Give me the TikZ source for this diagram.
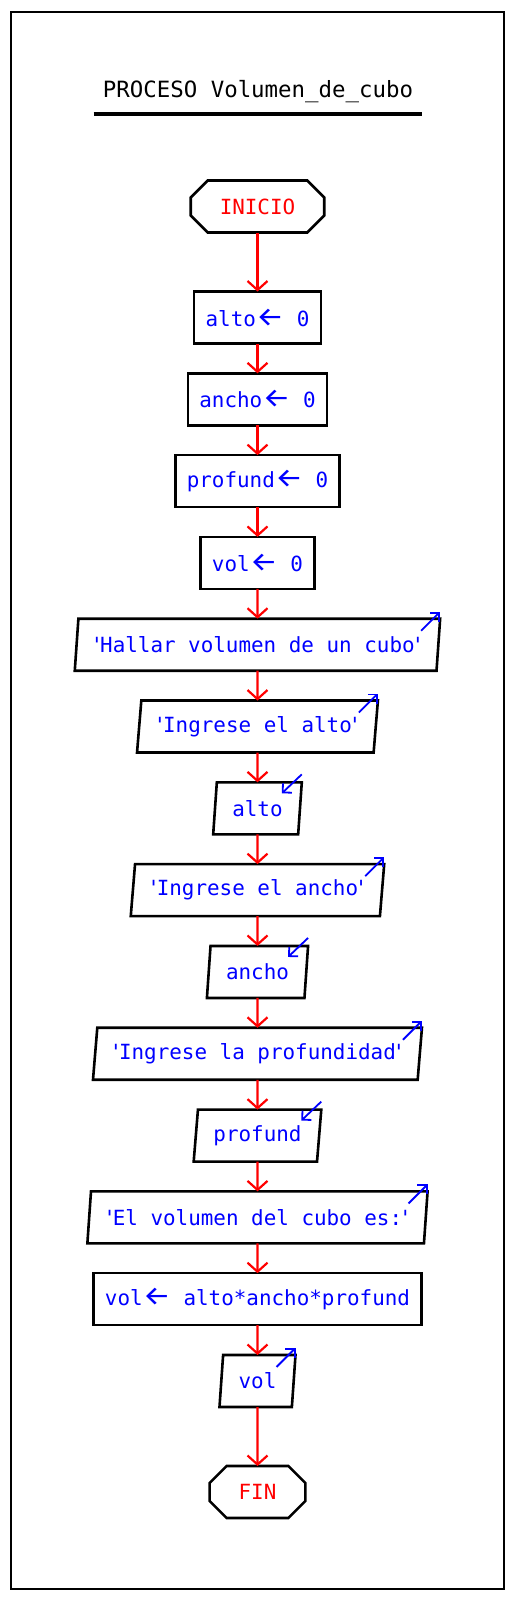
\documentclass[tikz,border=0pt]{standalone}
\usepackage{fontspec}
\setmonofont{DejaVu Sans Mono}
\newfontfamily\flechafont{Fira Sans}
\usepackage{graphicx}
\usepackage{tikz}
\usetikzlibrary{positioning, shapes.geometric, arrows.meta}

\newcommand{\asig}{\scalebox{1.5}[1.3]{\flechafont ←}}
\newcommand{\comilla}{\makebox[0.3em]{'}}

\begin{document}
\begin{tikzpicture}[
    x=1pt, y=-1pt,
    node distance=29.8pt,
    % Base styles
    basebox/.style={minimum height=52pt, outer sep=0pt, align=center, text=blue,
        font=\ttfamily\fontsize{20.9}{24}\selectfont, line width=2.6pt},
    % Rectangle for assignments
    asigbox/.style={basebox, rectangle, draw, inner xsep=11.5pt},
    % Parallelogram for input/output
    iobox/.style={basebox, draw, trapezium, trapezium left angle=81, trapezium right angle=99,
        trapezium stretches=true, inner xsep=15.5pt},
    % Start and end: text only, octagon drawn round it
    finbox/.style={basebox, rectangle, text=red, inner xsep=29pt},
    borde/.style={line width=2.6pt, line join=miter},
    % Title
    titulo/.style={font=\ttfamily\fontsize{22.4}{26}\selectfont, inner xsep=9pt, anchor=base},
    % Arrow styles
    flecha/.style={-{Straight Barb[length=9pt, width=20pt]}, red, line width=2.2pt},
    marca/.style={-{Straight Barb[length=6.5pt, width=13pt]}, blue, line width=1.8pt},
]
\useasboundingbox (0,0) rectangle (515,1600);

% Frame
\draw[line width=2.6pt] (11,12) rectangle (504,1589);

% Title
\node[titulo] (titulo) at (258,98) {PROCESO Volumen\_de\_cubo};
\draw[line width=4pt] ([shift={(0,16)}]titulo.base west) -- ([shift={(0,16)}]titulo.base east);

% Column of steps
\node[finbox] (inicio) at (257.5,206.5) {INICIO};
\node[asigbox, below=59pt of inicio] (alto) {alto\asig{} 0};
\node[asigbox, below=of alto] (ancho) {ancho\asig{} 0};
\node[asigbox, below=of ancho] (profund) {profund\asig{} 0};
\node[asigbox, below=of profund] (vol) {vol\asig{} 0};
\node[iobox, below=of vol] (hallar) {\comilla Hallar volumen de un cubo\comilla};
\node[iobox, below=of hallar] (msgalto) {\comilla Ingrese el alto\comilla};
\node[iobox, below=of msgalto] (leealto) {alto};
\node[iobox, below=of leealto] (msgancho) {\comilla Ingrese el ancho\comilla};
\node[iobox, below=of msgancho] (leeancho) {ancho};
\node[iobox, below=of leeancho] (msgprof) {\comilla Ingrese la profundidad\comilla};
\node[iobox, below=of msgprof] (leeprof) {profund};
\node[iobox, below=of leeprof] (msgvol) {\comilla El volumen del cubo es:\comilla};
\node[asigbox, below=of msgvol] (calcvol) {vol\asig{} alto*ancho*profund};
\node[iobox, below=of calcvol] (escvol) {vol};
\node[finbox, below=59pt of escvol] (fin) {FIN};

% Octagons for INICIO and FIN
\draw[borde] ([xshift=17pt]inicio.north west) -- ([xshift=-17pt]inicio.north east) -- ([yshift=-17pt]inicio.north east)
    -- ([yshift=17pt]inicio.south east) -- ([xshift=-17pt]inicio.south east) -- ([xshift=17pt]inicio.south west)
    -- ([yshift=17pt]inicio.south west) -- ([yshift=-17pt]inicio.north west) -- cycle;
\draw[borde] ([xshift=17pt]fin.north west) -- ([xshift=-17pt]fin.north east) -- ([yshift=-17pt]fin.north east)
    -- ([yshift=17pt]fin.south east) -- ([xshift=-17pt]fin.south east) -- ([xshift=17pt]fin.south west)
    -- ([yshift=17pt]fin.south west) -- ([yshift=-17pt]fin.north west) -- cycle;

% Arrows: main flow
\draw[flecha] (inicio) -- (alto);
\draw[flecha] (alto) -- (ancho);
\draw[flecha] (ancho) -- (profund);
\draw[flecha] (profund) -- (vol);
\draw[flecha] (vol) -- (hallar);
\draw[flecha] (hallar) -- (msgalto);
\draw[flecha] (msgalto) -- (leealto);
\draw[flecha] (leealto) -- (msgancho);
\draw[flecha] (msgancho) -- (leeancho);
\draw[flecha] (leeancho) -- (msgprof);
\draw[flecha] (msgprof) -- (leeprof);
\draw[flecha] (leeprof) -- (msgvol);
\draw[flecha] (msgvol) -- (calcvol);
\draw[flecha] (calcvol) -- (escvol);
\draw[flecha] (escvol) -- (fin);

% Output marks (out of the box)
\draw[marca] ([shift={(-19,12)}]hallar.top right corner) -- ([shift={(0,-7)}]hallar.top right corner);
\draw[marca] ([shift={(-19,12)}]msgalto.top right corner) -- ([shift={(0,-7)}]msgalto.top right corner);
\draw[marca] ([shift={(-19,12)}]msgancho.top right corner) -- ([shift={(0,-7)}]msgancho.top right corner);
\draw[marca] ([shift={(-19,12)}]msgprof.top right corner) -- ([shift={(0,-7)}]msgprof.top right corner);
\draw[marca] ([shift={(-19,12)}]msgvol.top right corner) -- ([shift={(0,-7)}]msgvol.top right corner);
\draw[marca] ([shift={(-19,12)}]escvol.top right corner) -- ([shift={(0,-7)}]escvol.top right corner);

% Input marks (into the box)
\draw[marca] ([shift={(0,-8)}]leealto.top right corner) -- ([shift={(-20,11)}]leealto.top right corner);
\draw[marca] ([shift={(0,-8)}]leeancho.top right corner) -- ([shift={(-20,11)}]leeancho.top right corner);
\draw[marca] ([shift={(0,-8)}]leeprof.top right corner) -- ([shift={(-20,11)}]leeprof.top right corner);

\end{tikzpicture}
\end{document}
